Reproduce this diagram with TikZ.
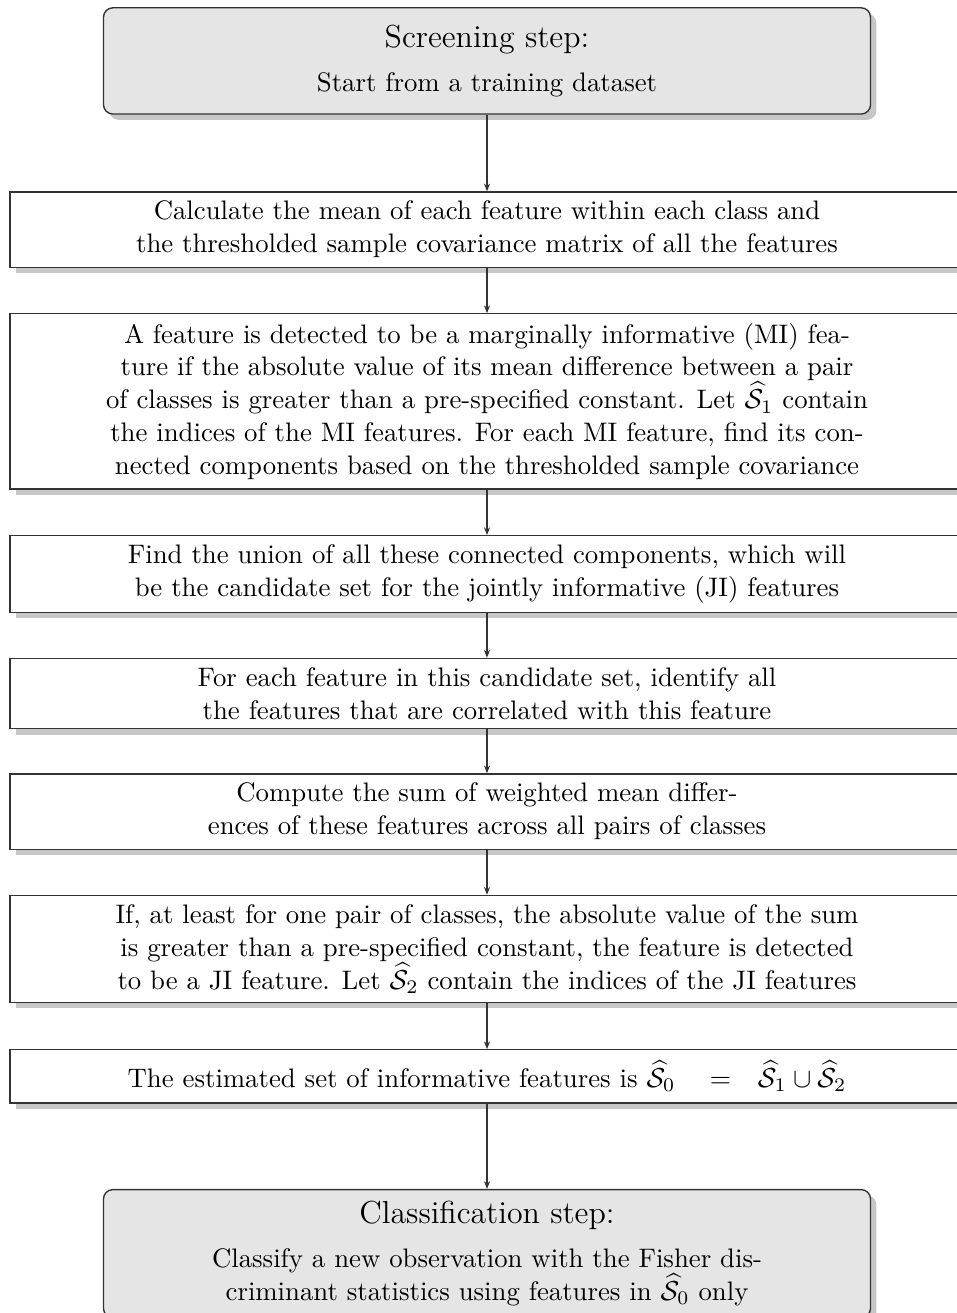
\documentclass[tikz,border=0pt]{standalone}
\usetikzlibrary{arrows.meta,shadows}
\newcommand{\steptitle}[1]{{\fontsize{11.6}{14}\selectfont #1}}
\begin{document}
\begin{tikzpicture}[
  boxshadow/.style={drop shadow={shadow xshift=0.075cm,shadow yshift=-0.075cm,fill=black!22,opacity=1}},
  stepbox/.style={draw=black!80,line width=0.5pt,fill=black!10,rounded corners=0.12cm,
    minimum width=9.82cm,align=center,font=\fontsize{9.75}{12}\selectfont,boxshadow},
  taskbox/.style={draw=black!80,line width=0.5pt,fill=white,minimum width=12.21cm,
    align=center,font=\fontsize{9.75}{12}\selectfont,boxshadow},
  flow/.style={draw=black!80,line width=0.4pt,-{Stealth[length=2.8pt,width=2.2pt]}}]
  \path[use as bounding box,clip] (0,0) rectangle (12.25,-16.81);
  \node[stepbox,minimum height=1.36cm] (screen) at (6.235,-0.78)
    {\steptitle{Screening step:}\\[4pt] Start from a training dataset};
  \node[taskbox,minimum height=0.96cm] (mean) at (6.235,-2.94)
    {Calculate the mean of each feature within each class and\\
     the thresholded sample covariance matrix of all the features};
  \node[taskbox,minimum height=2.24cm] (mi) at (6.235,-5.14)
    {A feature is detected to be a marginally informative (MI) fea-\\
     ture if the absolute value of its mean difference between a pair\\
     of classes is greater than a pre-specified constant. Let $\widehat{\mathcal{S}}_1$ contain\\
     the indices of the MI features. For each MI feature, find its con-\\
     nected components based on the thresholded sample covariance};
  \node[taskbox,minimum height=0.97cm] (union) at (6.235,-7.35)
    {Find the union of all these connected components, which will\\
     be the candidate set for the jointly informative (JI) features};
  \node[taskbox,minimum height=0.86cm] (corr) at (6.235,-8.88)
    {For each feature in this candidate set, identify all\\
     the features that are correlated with this feature};
  \node[taskbox,minimum height=0.95cm] (sum) at (6.235,-10.39)
    {Compute the sum of weighted mean differ-\\
     ences of these features across all pairs of classes};
  \node[taskbox,minimum height=1.36cm] (ji) at (6.235,-12.15)
    {If, at least for one pair of classes, the absolute value of the sum\\
     is greater than a pre-specified constant, the feature is detected\\
     to be a JI feature. Let $\widehat{\mathcal{S}}_2$ contain the indices of the JI features};
  \node[taskbox,minimum height=0.68cm] (est) at (6.235,-13.78)
    {The estimated set of informative features is
     $\widehat{\mathcal{S}}_0\quad\;{=}\quad\widehat{\mathcal{S}}_1\cup\widehat{\mathcal{S}}_2$};
  \node[stepbox,minimum height=1.64cm] (classify) at (6.235,-16.05)
    {\steptitle{Classification step:}\\[4pt] Classify a new observation with the Fisher dis-\\
     criminant statistics using features in $\widehat{\mathcal{S}}_0$ only};
  \draw[flow] (screen) -- (mean);
  \draw[flow] (mean) -- (mi);
  \draw[flow] (mi) -- (union);
  \draw[flow] (union) -- (corr);
  \draw[flow] (corr) -- (sum);
  \draw[flow] (sum) -- (ji);
  \draw[flow] (ji) -- (est);
  \draw[flow] (est) -- (classify);
\end{tikzpicture}
\end{document}
